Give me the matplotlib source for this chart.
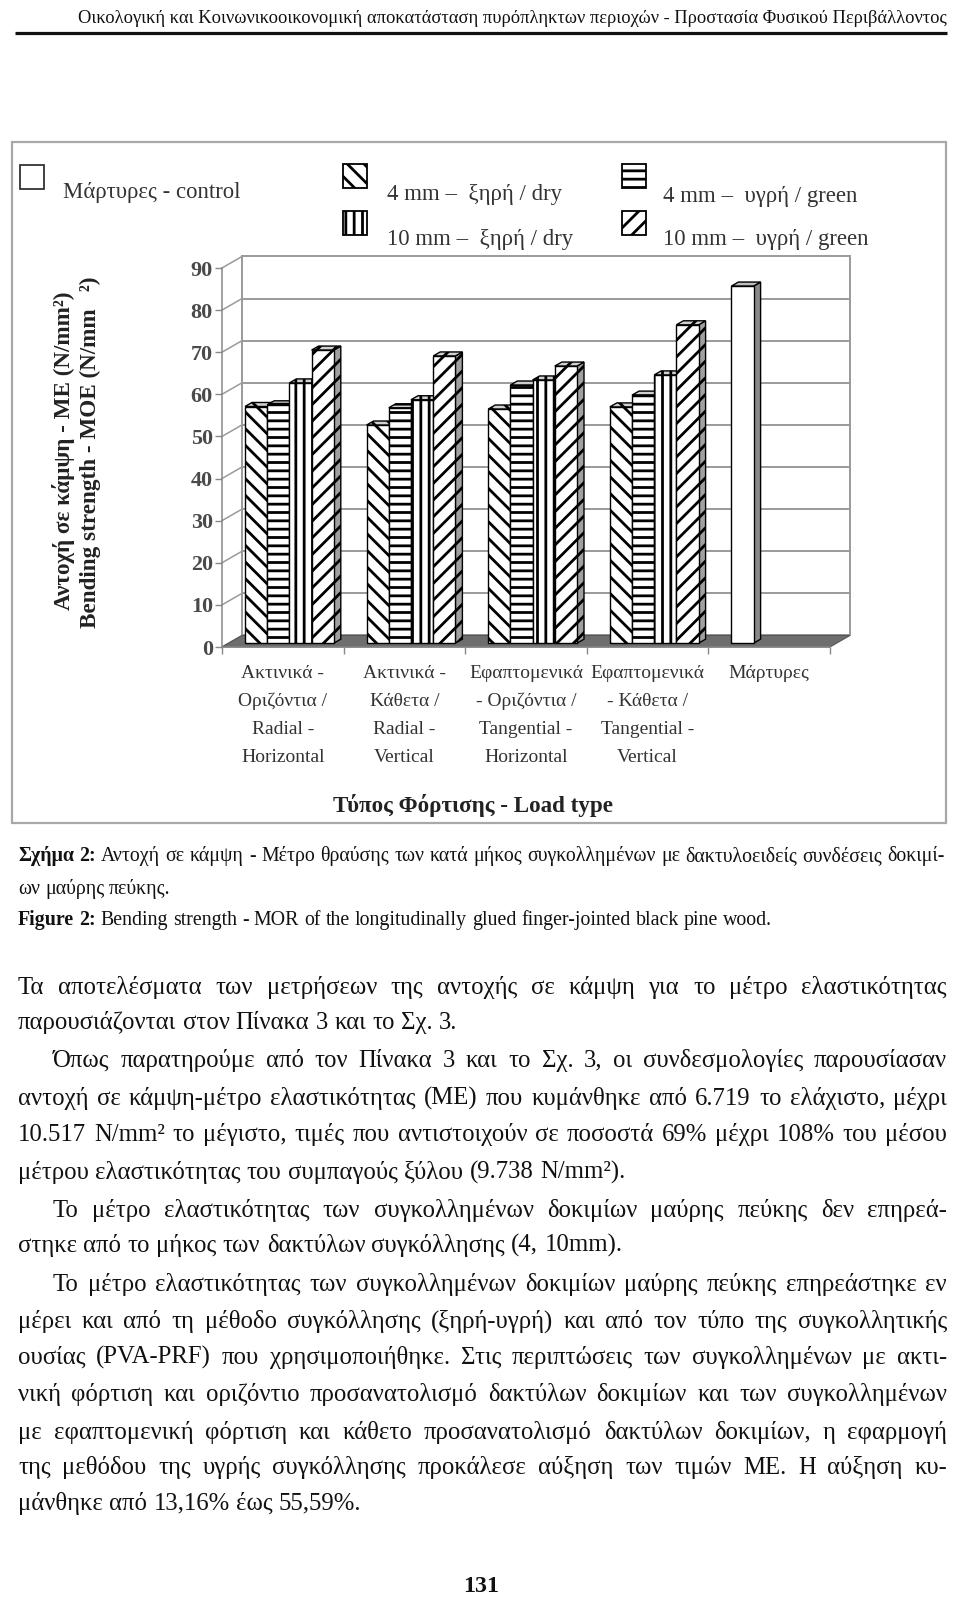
import matplotlib
matplotlib.use('Agg')
import matplotlib.pyplot as plt
from matplotlib.font_manager import FontProperties
from matplotlib.patches import Rectangle, Polygon
import matplotlib.transforms as mtransforms

plt.rcParams['hatch.linewidth'] = 2.0
plt.rcParams['font.family'] = ['Liberation Serif', 'DejaVu Serif']

# ---------------- data ----------------
category_lines = [
    ["Ακτινικά -", "Οριζόντια /", "Radial -", "Horizontal"],
    ["Ακτινικά -", "Κάθετα /", "Radial -", "Vertical"],
    ["Εφαπτομενικά", "- Οριζόντια /", "Tangential -", "Horizontal"],
    ["Εφαπτομενικά", "- Κάθετα /", "Tangential -", "Vertical"],
    ["Μάρτυρες"],
]
series_names = ["4 mm –  ξηρή / dry", "4 mm –  υγρή / green",
                "10 mm –  ξηρή / dry", "10 mm –  υγρή / green"]
control_name = "Μάρτυρες - control"
dry_4mm = [56.2, 51.8, 55.6, 56.1]
green_4mm = [56.6, 55.9, 61.3, 58.9]
dry_10mm = [61.8, 57.8, 62.5, 63.7]
green_10mm = [69.6, 68.2, 65.8, 75.6]
control = [84.8]
control_category = 4
y_ticks = [0, 10, 20, 30, 40, 50, 60, 70, 80, 90]
y_title_1 = "Αντοχή σε κάμψη - ΜΕ (N/mm²)"
y_title_2 = "Bending strength - MOE (N/mm   ²)"
x_title = "Τύπος Φόρτισης - Load type"

header = "Οικολογική και Κοινωνικοοικονομική αποκατάσταση πυρόπληκτων περιοχών - Προστασία Φυσικού Περιβάλλοντος"
caption_1 = [("Σχήμα 2:", "bold"), ("Αντοχή σε κάμψη - Μέτρο θραύσης των κατά μήκος συγκολλημένων με δακτυλοειδείς συνδέσεις δοκιμί-", "normal")]
caption_2 = [("ων μαύρης πεύκης.", "normal")]
caption_3 = [("Figure 2:", "bold"), ("Bending strength - MOR of the longitudinally glued finger-jointed black pine wood.", "normal")]

# (text, indent, justified)
body = [
    ("Τα αποτελέσματα των μετρήσεων της αντοχής σε κάμψη για το μέτρο ελαστικότητας", False, True),
    ("παρουσιάζονται στον Πίνακα 3 και το Σχ. 3.", False, False),
    ("Όπως παρατηρούμε από τον Πίνακα 3 και το Σχ. 3, οι συνδεσμολογίες παρουσίασαν", True, True),
    ("αντοχή σε κάμψη-μέτρο ελαστικότητας (ΜΕ) που κυμάνθηκε από 6.719 το ελάχιστο, μέχρι", False, True),
    ("10.517 N/mm² το μέγιστο, τιμές που αντιστοιχούν σε ποσοστά 69% μέχρι 108% του μέσου", False, True),
    ("μέτρου ελαστικότητας του συμπαγούς ξύλου (9.738 N/mm²).", False, False),
    ("Το μέτρο ελαστικότητας των συγκολλημένων δοκιμίων μαύρης πεύκης δεν επηρεά-", True, True),
    ("στηκε από το μήκος των δακτύλων συγκόλλησης (4, 10mm).", False, False),
    ("Το μέτρο ελαστικότητας των συγκολλημένων δοκιμίων μαύρης πεύκης επηρεάστηκε εν", True, True),
    ("μέρει και από τη μέθοδο συγκόλλησης (ξηρή-υγρή) και από τον τύπο της συγκολλητικής", False, True),
    ("ουσίας (PVA-PRF) που χρησιμοποιήθηκε. Στις περιπτώσεις των συγκολλημένων με ακτι-", False, True),
    ("νική φόρτιση και οριζόντιο προσανατολισμό δακτύλων δοκιμίων και των συγκολλημένων", False, True),
    ("με εφαπτομενική φόρτιση και κάθετο προσανατολισμό δακτύλων δοκιμίων, η εφαρμογή", False, True),
    ("της μεθόδου της υγρής συγκόλλησης προκάλεσε αύξηση των τιμών ΜΕ. Η αύξηση κυ-", False, True),
    ("μάνθηκε από 13,16% έως 55,59%.", False, False),
]
page_number = "131"

# ---------------- figure / page ----------------
W, H, DPI = 960, 1597, 100
fig = plt.figure(figsize=(W / DPI, 15.9705), dpi=DPI)
fig.patch.set_facecolor('white')
pg = fig.add_axes([0, 0, 1, 1])
pg.set_xlim(0, W)
pg.set_ylim(H, 0)
pg.axis('off')
renderer = fig.canvas.get_renderer()
SERIF = 'Liberation Serif'


def px(pt):
    return pt * DPI / 72.0


def text_w(s, size, weight='normal'):
    fp = FontProperties(family=SERIF, size=size, weight=weight)
    w, h, d = renderer.get_text_width_height_descent(s, fp, ismath=False)
    return w


def space_w(size, weight='normal'):
    return text_w('n n', size, weight) - text_w('nn', size, weight)


def fit(s, target, weight='normal'):
    return 20.0 * target / text_w(s, 20.0, weight)


def put_line(segs, x0, yc, size, x1=None, color='#111111', min_gap=0.17):
    words = []
    for t, wt in segs:
        for w in t.split(' '):
            if w:
                words.append((w, wt))
    ws = [text_w(w, size, wt) for w, wt in words]
    if x1 is not None and len(words) > 1:
        natural = sum(ws) + (len(words) - 1) * min_gap * px(size)
        if natural > x1 - x0:
            size = size * (x1 - x0) / natural
            ws = [text_w(w, size, wt) for w, wt in words]
        gap = (x1 - x0 - sum(ws)) / (len(words) - 1)
    else:
        gap = space_w(size)
    x = x0
    base = yc + 0.31 * px(size)
    for (w, wt), wd in zip(words, ws):
        pg.text(x, base, w, fontsize=size, fontweight=wt, color=color,
                ha='left', va='baseline', family=SERIF)
        x += wd + gap


# header
hs = fit(header, 866)
pg.text(947, 17 + 0.31 * px(hs), header, fontsize=hs, ha='right', va='baseline',
        color='#111111', family=SERIF)
pg.plot([15, 947], [33, 33], color='#111111', lw=2.3, solid_capstyle='butt')

# chart frame
pg.add_patch(Rectangle((12, 142), 934, 681, fill=False, edgecolor='#a8a8a8', lw=1.6))

# ---------------- chart axes ----------------
X0_PX, X1_PX, Y0_PX, Y1_PX = 222, 850, 647, 256
CAT_PX = 121.6
UNIT_PX = 4.211
ax = fig.add_axes([X0_PX / W, (H - Y0_PX) / H, (X1_PX - X0_PX) / W, (Y0_PX - Y1_PX) / H])
ax.set_xlim(-0.5, -0.5 + (X1_PX - X0_PX) / CAT_PX)
ax.set_ylim(0, (Y0_PX - Y1_PX) / UNIT_PX)
ax.patch.set_alpha(0)
DX = 20 / CAT_PX
DY = 11.5 / UNIT_PX
ncat = len(category_lines)
xl, xr = -0.5, ncat - 0.5
top = y_ticks[-1]
grid_c = '#9a9a9a'

# floor
ax.add_patch(Polygon([(xl, 0), (xr, 0), (xr + DX, DY), (xl + DX, DY)], closed=True,
                     facecolor='#6e6e6e', edgecolor='#555555', lw=0.8, zorder=1, clip_on=False))
# back wall
ax.add_patch(Rectangle((xl + DX, DY), xr - xl, top, facecolor='white', edgecolor=grid_c,
                       lw=1.4, zorder=0.5, clip_on=False))
for v in y_ticks:
    if 0 < v < top:
        ax.plot([xl + DX, xr + DX], [v + DY, v + DY], color=grid_c, lw=1.4, zorder=0.8, clip_on=False)
    ax.plot([xl, xl + DX], [v, v + DY], color=grid_c, lw=1.1, zorder=0.8, clip_on=False)

# bars
w = 22.2 / CAT_PX
f_front = 0.33
depth = 0.35
series = [dry_4mm, green_4mm, dry_10mm, green_10mm]
hatches = ['\\\\', '--', '||', '//']
for s, (vals, hat) in enumerate(zip(series, hatches)):
    xs = [c + (s - 1.5) * w + f_front * DX for c in range(len(vals))]
    z = 10 + 3 * s
    bars = ax.bar(xs, vals, width=w, bottom=f_front * DY, facecolor='white', edgecolor='black',
                  hatch=hat, lw=1.0, zorder=z + 2, clip_on=False)
    for b in bars:
        x0, y0, bw, bh = b.get_x(), b.get_y(), b.get_width(), b.get_height()
        ddx, ddy = depth * DX, depth * DY
        ax.add_patch(Polygon([(x0 + bw, y0), (x0 + bw + ddx, y0 + ddy), (x0 + bw + ddx, y0 + bh + ddy),
                              (x0 + bw, y0 + bh)], closed=True, facecolor='#a0a0a0', edgecolor='black',
                             hatch=hat, lw=1.0, zorder=z, clip_on=False))
        ax.add_patch(Polygon([(x0, y0 + bh), (x0 + bw, y0 + bh), (x0 + bw + ddx, y0 + bh + ddy),
                              (x0 + ddx, y0 + bh + ddy)], closed=True, facecolor='#d0d0d0', edgecolor='black',
                             hatch=hat, lw=1.0, zorder=z + 1, clip_on=False))

# control bar
cx = [control_category + (0 - 1.5) * w + f_front * DX]
cb = ax.bar(cx, control, width=w, bottom=f_front * DY, facecolor='white', edgecolor='black',
            lw=1.0, zorder=40, clip_on=False)
for b in cb:
    x0, y0, bw, bh = b.get_x(), b.get_y(), b.get_width(), b.get_height()
    ddx, ddy = depth * DX, depth * DY
    ax.add_patch(Polygon([(x0 + bw, y0), (x0 + bw + ddx, y0 + ddy), (x0 + bw + ddx, y0 + bh + ddy),
                          (x0 + bw, y0 + bh)], closed=True, facecolor='#8a8a8a', edgecolor='black',
                         lw=1.0, zorder=38, clip_on=False))
    ax.add_patch(Polygon([(x0, y0 + bh), (x0 + bw, y0 + bh), (x0 + bw + ddx, y0 + bh + ddy),
                          (x0 + ddx, y0 + bh + ddy)], closed=True, facecolor='#bdbdbd', edgecolor='black',
                         lw=1.0, zorder=39, clip_on=False))

# axes spines / ticks
for sp in ['top', 'right']:
    ax.spines[sp].set_visible(False)
ax.spines['left'].set_bounds(0, top)
ax.spines['bottom'].set_bounds(xl, xr)
for sp in ['left', 'bottom']:
    ax.spines[sp].set_color('#888888')
    ax.spines[sp].set_linewidth(1.1)
    ax.spines[sp].set_zorder(2)
tick_fs = fit("90", 22, 'bold')
ax.set_yticks(y_ticks)
ax.set_yticklabels([str(v) for v in y_ticks], fontsize=tick_fs, color='#4a4a4a',
                   family=SERIF, fontweight='bold')
ax.set_xticks([xl + k for k in range(ncat + 1)])
ax.set_xticklabels([''] * (ncat + 1))
ax.tick_params(axis='both', direction='out', length=5, width=1.0, color='#888888', pad=1.5)

# category labels (x from chart axes, y in page pixels)
blend = mtransforms.blended_transform_factory(ax.transData, pg.transData)
cat_fs = fit("Εφαπτομενικά", 113)
for c, lines in enumerate(category_lines):
    for i, ln in enumerate(lines):
        yc = 672 + i * 28
        pg.text(c, yc + 0.31 * px(cat_fs), ln, transform=blend, ha='center', va='baseline',
                fontsize=cat_fs, color='#333333', family=SERIF)

# axis titles
xt_fs = fit(x_title, 280, 'bold')
pg.text(473, 805 + 0.31 * px(xt_fs), x_title, ha='center', va='baseline', fontsize=xt_fs,
        fontweight='bold', color='#222222', family=SERIF)
yt_fs = fit(y_title_1, 318, 'bold')
pg.text(64, 451, y_title_1, rotation=90, ha='center', va='center', fontsize=yt_fs,
        fontweight='bold', color='#222222', family=SERIF)
pg.text(90, 452, y_title_2, rotation=90, ha='center', va='center', fontsize=yt_fs,
        fontweight='bold', color='#222222', family=SERIF)

# legend
leg_fs = fit(control_name, 177)
pg.add_patch(Rectangle((20, 165), 24, 24, facecolor='white', edgecolor='#333333', lw=1.3))
pg.text(63, 191 + 0.31 * px(leg_fs), control_name, fontsize=leg_fs, color='#333333',
        ha='left', va='baseline', family=SERIF)
leg_pos = [(343, 164, 387, 193), (622, 164, 663, 195), (343, 211, 387, 238), (622, 211, 663, 238)]
for name, hat, (sx, sy, tx, ty) in zip(series_names, hatches, leg_pos):
    pg.add_patch(Rectangle((sx, sy), 24, 24, facecolor='white', edgecolor='black', hatch=hat, lw=1.3))
    pg.text(tx, ty + 0.31 * px(leg_fs), name, fontsize=leg_fs, color='#333333',
            ha='left', va='baseline', family=SERIF)

# ---------------- caption ----------------
cap_fs = 20.0 * 753 / (text_w("Figure 2:", 20, 'bold') + space_w(20) +
                       text_w(caption_3[1][0], 20))
put_line(caption_1, 18, 855, cap_fs, x1=945)
put_line(caption_2, 18, 888, cap_fs)
put_line(caption_3, 18, 919, cap_fs)

# ---------------- body ----------------
fits = []
for txt, target in [(body[1][0], 372), (body[5][0], 639), (body[7][0], 637), (body[14][0], 359)]:
    fits.append(fit(txt, target))
body_fs = sum(fits) / len(fits)
body_y = [986, 1021, 1059, 1097, 1133, 1171, 1209, 1244, 1283, 1320, 1356, 1393, 1431, 1466, 1502]
for (txt, indent, just), yc in zip(body, body_y):
    x0 = 53 if indent else 18
    put_line([(txt, 'normal')], x0, yc, body_fs, x1=947 if just else None)

pn_fs = fit(page_number, 36, 'bold')
pg.text(481, 1585 + 0.31 * px(pn_fs), page_number, ha='center', va='baseline', fontsize=pn_fs,
        fontweight='bold', color='#111111', family=SERIF)

fig.savefig('out.png', dpi=DPI, facecolor='white')
